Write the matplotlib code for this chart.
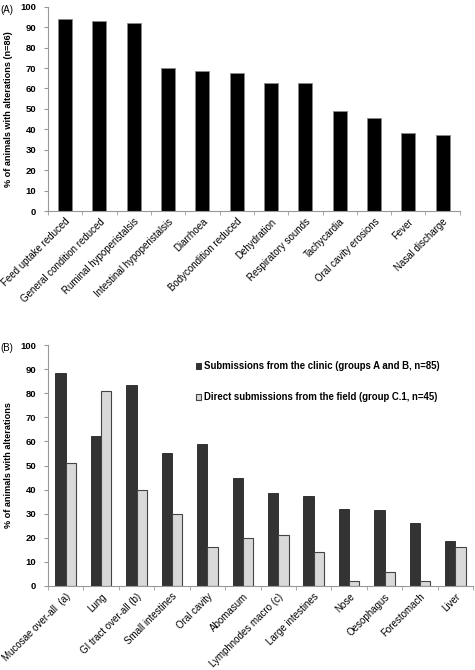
import matplotlib.pyplot as plt
import numpy as np

plt.rcParams['font.family'] = ['Liberation Sans', 'DejaVu Sans']

signs = ['Feed uptake reduced', 'General condition reduced', 'Ruminal hypoperistalsis',
         'Intestinal hypoperistalsis', 'Diarrhoea', 'Bodycondition reduced', 'Dehydration',
         'Respiratory sounds', 'Tachycardia', 'Oral cavity erosions', 'Fever', 'Nasal discharge']
signs_pct = [94.2, 93.0, 91.9, 69.8, 68.6, 67.4, 62.8, 62.8, 48.8, 45.3, 38.4, 37.2]

organs = ['Mucosae over-all  (a)', 'Lung', 'GI tract over-all (b)', 'Small intestines',
          'Oral cavity', 'Abomasum', 'Lymphnodes macro (c)', 'Large intestines', 'Nose',
          'Oesophagus', 'Forestomach', 'Liver']
clinic = [88.2, 62.4, 83.5, 55.3, 59.0, 44.7, 38.8, 37.4, 32.0, 31.4, 26.3, 18.8]
field = [51.1, 81.0, 40.0, 30.0, 16.0, 20.0, 21.0, 14.0, 2.2, 6.0, 2.2, 16.0]

legend_labels = ['Submissions from the clinic (groups A and B, n=85)',
                 'Direct submissions from the field (group C.1, n=45)']

fig = plt.figure(figsize=(4.75, 6.7), dpi=100)


def style_axes(ax, n):
    for s in ['top', 'right']:
        ax.spines[s].set_visible(False)
    for s in ['left', 'bottom']:
        ax.spines[s].set_color('#999999')
        ax.spines[s].set_linewidth(0.8)
    ax.set_ylim(0, 100)
    ax.set_yticks(range(0, 101, 10))
    ax.set_xlim(-0.5, n - 0.5)
    ax.set_xticks(np.arange(n))
    ax.set_xticks(np.arange(n + 1) - 0.5, minor=True)
    ax.tick_params(axis='x', which='major', length=0, pad=4)
    ax.tick_params(axis='x', which='minor', length=3, color='#999999')
    ax.tick_params(axis='y', length=3, color='#999999', labelsize=6.8, pad=5.5)
    for lab in ax.get_yticklabels():
        lab.set_fontweight('bold')


# panel A
ax1 = fig.add_axes([0.101, 0.685, 0.867, 0.305])
x = np.arange(len(signs))
ax1.bar(x, signs_pct, width=0.41, color='black', edgecolor='#888888', linewidth=0.6)
style_axes(ax1, len(signs))
ax1.set_xticklabels(signs, rotation=45, ha='right', rotation_mode='anchor', fontsize=7.0)
ax1.set_ylabel('% of animals with alterations (n=86)', fontsize=6.6, fontweight='bold', labelpad=5)
fig.text(0.0, 0.993, '(A)', fontsize=7, va='top')

# panel B
ax2 = fig.add_axes([0.101, 0.1254, 0.895, 0.3596])
x = np.arange(len(organs))
w = 0.29
ax2.bar(x - w / 2, clinic, width=w, color='#333333', edgecolor='#222222', linewidth=0.6,
        label=legend_labels[0])
ax2.bar(x + w / 2, field, width=w, color='#d9d9d9', edgecolor='#444444', linewidth=0.8,
        label=legend_labels[1])
style_axes(ax2, len(organs))
ax2.set_xticklabels(organs, rotation=45, ha='right', rotation_mode='anchor', fontsize=7.0)
ax2.set_ylabel('% of animals with alterations', fontsize=6.6, fontweight='bold', labelpad=5)
ax2.legend(loc='upper left', bbox_to_anchor=(0.338, 0.95), frameon=False,
           prop={'size': 6.9, 'weight': 'bold'}, handlelength=0.6, handleheight=0.6,
           handletextpad=0.3, labelspacing=2.2, borderaxespad=0)
fig.text(0.0, 0.488, '(B)', fontsize=7, va='top')

fig.savefig('out.png', dpi=100)
